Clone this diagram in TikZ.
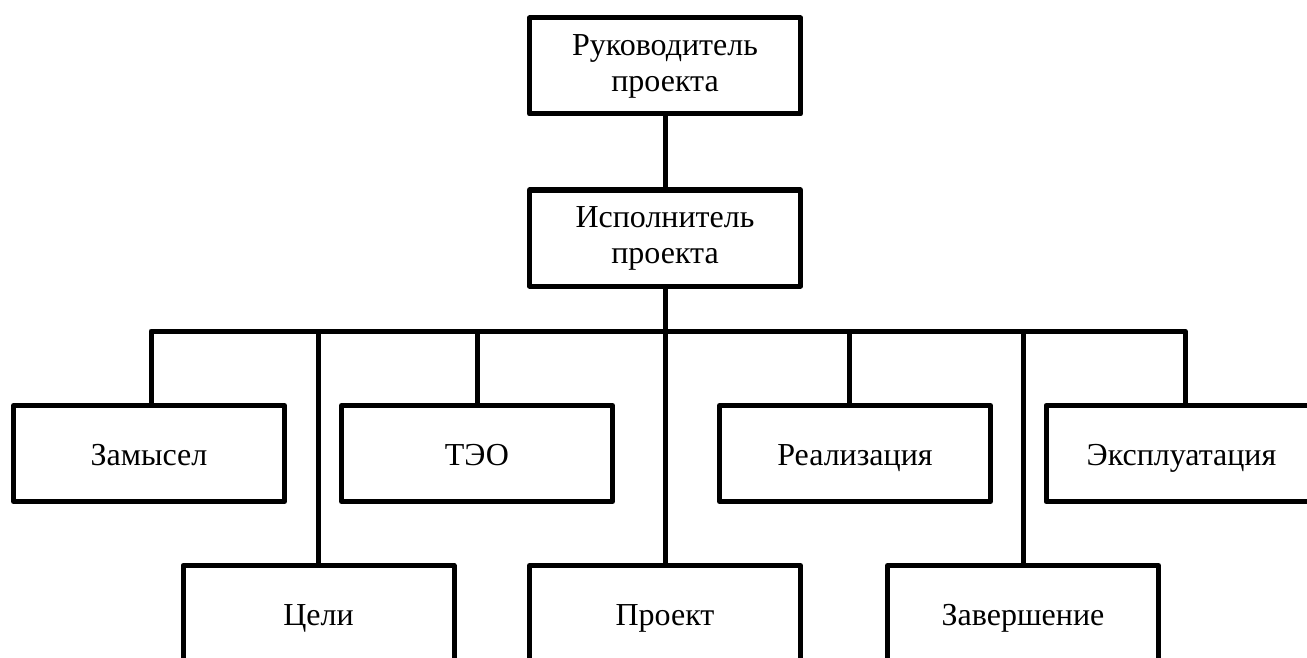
\documentclass[tikz,border=0pt]{standalone}
\usepackage{fontspec}
\setmainfont{Liberation Serif}
\usetikzlibrary{positioning}

\begin{document}
\begin{tikzpicture}[
    x=1pt, y=-1pt,
    font=\fontsize{32}{36}\selectfont,
    block/.style={draw, line width=5pt, line join=round, minimum width=271pt, minimum height=96pt, inner sep=0pt, align=center},
    single/.style={block, text height=23pt, text depth=0pt},
    link/.style={line width=5pt, line join=round}
  ]
    \useasboundingbox (0,0) rectangle (1307,658);
    \clip (0,0) rectangle (1307,658);
    \node[block] (ruk) at (665,66) {Руководитель\\проекта};
    \node[block] (isp) at (665,238) {Исполнитель\\проекта};
    \coordinate (bus) at (665,331);
    \foreach \n/\x/\t in {zam/149/Замысел,teo/477/ТЭО,real/855/Реализация,expl/1181.5/Эксплуатация} {
      \node[single] (\n) at (\x,453.5) {\t};
    }
    \foreach \n/\x/\t in {celi/318.5/Цели,proekt/665/Проект,zav/1023/Завершение} {
      \node[single] (\n) at (\x,613.5) {\t};
    }
    \draw[link] (ruk) -- (isp);
    \draw[link] (isp) -- (bus);
    \draw[link] ([xshift=2pt]zam.north) |- (bus) -| ([xshift=3.5pt]expl.north);
    \draw[link] (teo.north) -- (teo.north |- bus);
    \draw[link] ([xshift=-6pt]real.north) -- ([xshift=-6pt]real.north |- bus);
    \foreach \n in {celi,proekt,zav} {
      \draw[link] (\n.north) -- (\n.north |- bus);
    }
  \end{tikzpicture}
\end{document}
